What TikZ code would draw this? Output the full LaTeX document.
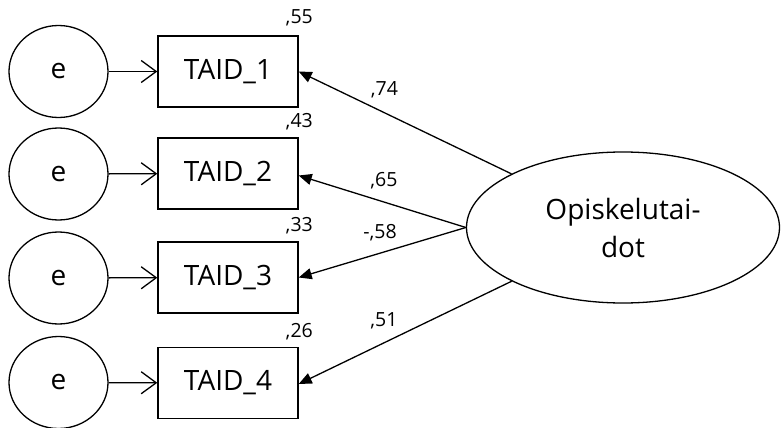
\documentclass[tikz,border=0pt]{standalone}
\usepackage{fontspec}
\setmainfont{Open Sans}
\usetikzlibrary{arrows.meta,shapes.geometric}

\tikzset{
  errvar/.style={draw, ellipse, line width=1.3pt, minimum width=99pt, minimum height=92pt, inner sep=0pt,
    font=\fontsize{28}{34}\selectfont},
  indicator/.style={draw, rectangle, line width=1.4pt, minimum width=140pt, minimum height=71pt, inner sep=0pt,
    font=\fontsize{28}{34}\selectfont},
  factor/.style={draw, ellipse, line width=1.3pt, minimum width=313pt, minimum height=151pt, inner sep=0pt,
    align=center, font=\fontsize{28}{38}\selectfont},
  coef/.style={inner sep=0pt, font=\fontsize{19.5}{22}\selectfont},
  errarrow/.style={line width=1.3pt, -{Straight Barb[length=15pt,width=22pt,line width=1.3pt]}},
  loading/.style={line width=1.3pt, -{Triangle[length=13pt,width=11pt]}},
}

\begin{document}
\begin{tikzpicture}[x=1pt, y=-1pt]
  \useasboundingbox (0,0) rectangle (782,428);

  % error terms
  \node[errvar] (e1) at (58.5,71.5) {e};
  \node[errvar] (e2) at (58.5,174) {e};
  \node[errvar] (e3) at (58.5,278) {e};
  \node[errvar] (e4) at (58.5,382.5) {e};

  % observed indicators
  \node[indicator] (t1) at (228,71.5) {TAID\_1};
  \node[indicator] (t2) at (228,173.5) {TAID\_2};
  \node[indicator] (t3) at (228,277.5) {TAID\_3};
  \node[indicator] (t4) at (228,383) {TAID\_4};

  % latent factor
  \node[factor] (f) at (623,227.5) {Opiskelutai-\\dot};

  % squared multiple correlations
  \node[coef, anchor=base east] (r1) at (313,24) {,55};
  \node[coef, anchor=base east] (r2) at (313,128) {,43};
  \node[coef, anchor=base east] (r3) at (313,231) {,33};
  \node[coef, anchor=base east] (r4) at (313,337) {,26};

  % error arrows
  \draw[errarrow] (e1) -- (t1);
  \draw[errarrow] (e2) -- (t2);
  \draw[errarrow] (e3) -- (t3);
  \draw[errarrow] (e4) -- (t4);

  % factor loadings
  \draw[loading] (f) -- (t1.east);
  \draw[loading] (f.west) -- ([yshift=-2pt]t2.east);
  \draw[loading] (f.west) -- (t3.east);
  \draw[loading] (f) -- ([yshift=-1pt]t4.east);

  \node[coef] (l1) at (384.5,89.5) {,74};
  \node[coef] (l2) at (384,180.5) {,65};
  \node[coef] (l3) at (380,233) {-,58};
  \node[coef] (l4) at (384,321) {,51};
\end{tikzpicture}
\end{document}
